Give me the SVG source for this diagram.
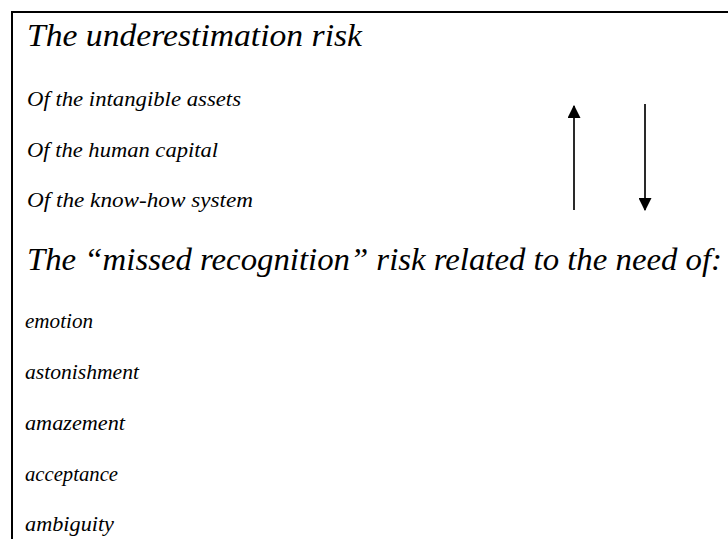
<svg xmlns="http://www.w3.org/2000/svg" width="728" height="539" viewBox="0 0 728 539">
  <style>
    text { font-family: "Liberation Serif", "DejaVu Serif", serif; font-style: italic; fill: #000; }
    .head { font-size: 32px; }
    .item { font-size: 21px; }
    .need { font-size: 20px; }
    .conn { stroke: #2a2a2a; stroke-width: 2; fill: none; }
  </style>
  <defs>
    <marker id="tip" viewBox="0 0 12 12" refX="11" refY="6" markerWidth="13" markerHeight="13" orient="auto" markerUnits="userSpaceOnUse">
      <path d="M0,0 L12,6 L0,12 z" fill="#000"/>
    </marker>
  </defs>
  <rect width="728" height="539" fill="#fff"/>
  <!-- frame, open to the right and bottom -->
  <path d="M728,12 H12 V539" fill="none" stroke="#000" stroke-width="2"/>

  <g id="underestimation">
    <text class="head" x="27" y="46" textLength="335" lengthAdjust="spacingAndGlyphs">The underestimation risk</text>
    <text class="item" x="27" y="106" textLength="214" lengthAdjust="spacingAndGlyphs">Of the intangible assets</text>
    <text class="item" x="27" y="157" textLength="191" lengthAdjust="spacingAndGlyphs">Of the human capital</text>
    <text class="item" x="27" y="207" textLength="226" lengthAdjust="spacingAndGlyphs">Of the know-how system</text>
  </g>

  <g id="connectors">
    <line class="conn" x1="574" y1="210" x2="574" y2="106" marker-end="url(#tip)"/>
    <line class="conn" x1="645" y1="104" x2="645" y2="210" marker-end="url(#tip)"/>
  </g>

  <g id="recognition">
    <text class="head" x="27" y="270" textLength="695" lengthAdjust="spacingAndGlyphs">The “missed recognition” risk related to the need of:</text>
    <text class="need" x="25" y="328" textLength="68" lengthAdjust="spacingAndGlyphs">emotion</text>
    <text class="need" x="25" y="379" textLength="114" lengthAdjust="spacingAndGlyphs">astonishment</text>
    <text class="need" x="25" y="430" textLength="100" lengthAdjust="spacingAndGlyphs">amazement</text>
    <text class="need" x="25" y="481" textLength="93" lengthAdjust="spacingAndGlyphs">acceptance</text>
    <text class="need" x="25" y="531" textLength="89" lengthAdjust="spacingAndGlyphs">ambiguity</text>
  </g>
</svg>
